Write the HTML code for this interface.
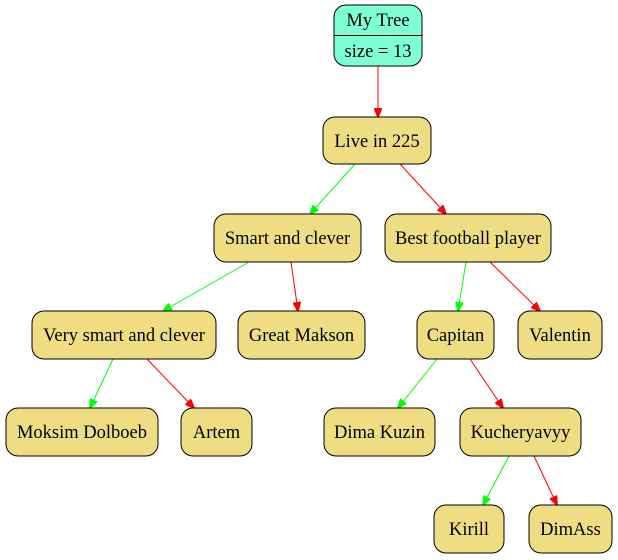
<!DOCTYPE html>
<html><head><meta charset="utf-8"><style>
html,body{margin:0;padding:0;background:#fff;width:618px;height:560px;overflow:hidden}
text{font-family:"Liberation Serif",serif;font-size:18.5px;fill:#000}
</style></head><body>
<svg width="618" height="560" viewBox="0 0 618 560" xmlns="http://www.w3.org/2000/svg">
<defs>
<marker id="r" markerWidth="10" markerHeight="8" refX="9" refY="4" orient="auto" markerUnits="userSpaceOnUse"><path d="M0,0 L10,4 L0,8 z" fill="#f00" stroke="#f00"/></marker>
<marker id="g" markerWidth="10" markerHeight="8" refX="9" refY="4" orient="auto" markerUnits="userSpaceOnUse"><path d="M0,0 L10,4 L0,8 z" fill="#0f0" stroke="#0f0"/></marker>
</defs>
<g stroke-width="1" fill="none">
<line x1="378" y1="66" x2="378" y2="117" stroke="#f00" marker-end="url(#r)"/>
<line x1="355" y1="164" x2="310" y2="214" stroke="#0f0" marker-end="url(#g)"/>
<line x1="400" y1="164" x2="446" y2="214" stroke="#f00" marker-end="url(#r)"/>
<line x1="249" y1="262" x2="163" y2="311" stroke="#0f0" marker-end="url(#g)"/>
<line x1="291" y1="262" x2="298" y2="311" stroke="#f00" marker-end="url(#r)"/>
<line x1="466" y1="262" x2="458" y2="311" stroke="#0f0" marker-end="url(#g)"/>
<line x1="490" y1="262" x2="540" y2="311" stroke="#f00" marker-end="url(#r)"/>
<line x1="113" y1="359" x2="90" y2="408" stroke="#0f0" marker-end="url(#g)"/>
<line x1="147" y1="359" x2="194" y2="408" stroke="#f00" marker-end="url(#r)"/>
<line x1="437" y1="359" x2="398" y2="408" stroke="#0f0" marker-end="url(#g)"/>
<line x1="470" y1="359" x2="503" y2="408" stroke="#f00" marker-end="url(#r)"/>
<line x1="509" y1="456" x2="483" y2="505" stroke="#0f0" marker-end="url(#g)"/>
<line x1="534" y1="456" x2="557" y2="505" stroke="#f00" marker-end="url(#r)"/>
</g>
<g stroke="#000" fill="#eedd82">
<rect x="334" y="5" width="88" height="61" rx="12" fill="#7fffd4"/>
<line x1="334" y1="35.5" x2="422" y2="35.5"/>
<rect x="323" y="117" width="108" height="47" rx="12"/>
<rect x="214" y="214" width="147" height="48" rx="12"/>
<rect x="385" y="214" width="166" height="48" rx="12"/>
<rect x="32" y="311" width="184" height="48" rx="12"/>
<rect x="238" y="311" width="127" height="48" rx="12"/>
<rect x="417" y="311" width="77" height="48" rx="12"/>
<rect x="518" y="311" width="84" height="48" rx="12"/>
<rect x="6" y="408" width="152" height="48" rx="12"/>
<rect x="181" y="408" width="71" height="48" rx="12"/>
<rect x="324" y="408" width="111" height="48" rx="12"/>
<rect x="460" y="408" width="121" height="48" rx="12"/>
<rect x="434" y="505" width="70" height="48" rx="12"/>
<rect x="529" y="505" width="83" height="48" rx="12"/>
</g>
<g text-anchor="middle">
<text x="378" y="26">My Tree</text>
<text x="378" y="57">size = 13</text>
<text x="377" y="147">Live in 225</text>
<text x="287.5" y="244">Smart and clever</text>
<text x="468" y="244">Best football player</text>
<text x="124" y="341">Very smart and clever</text>
<text x="301.5" y="341">Great Makson</text>
<text x="455.5" y="341">Capitan</text>
<text x="560" y="341">Valentin</text>
<text x="82" y="438">Moksim Dolboeb</text>
<text x="216.5" y="438">Artem</text>
<text x="379.5" y="438">Dima Kuzin</text>
<text x="520.5" y="438">Kucheryavyy</text>
<text x="469" y="535">Kirill</text>
<text x="570.5" y="535">DimAss</text>
</g>
</svg>
</body></html>
